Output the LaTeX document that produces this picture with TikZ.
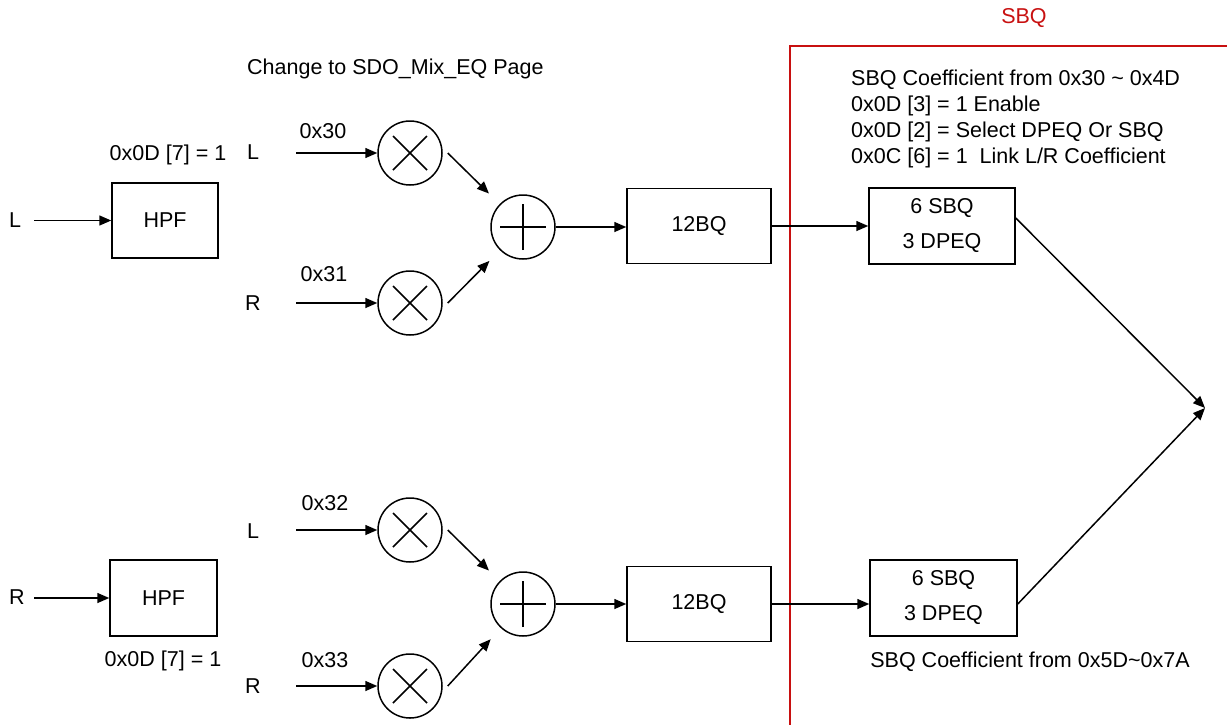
\documentclass[tikz,border=0pt]{standalone}
\usepackage{fontspec}
\setmainfont{Liberation Sans}
\usetikzlibrary{arrows.meta}
\definecolor{sbqred}{RGB}{200,16,16}
\begin{document}
\begin{tikzpicture}[x=1pt,y=-1pt,
  every node/.style={font=\fontsize{21.5}{25}\selectfont, inner sep=0pt},
  ln/.style={line width=1.5pt},
  arr/.style={ln, -{Triangle[length=12pt,width=10pt]}},
  blk/.style={draw, line width=1.5pt, align=center},
  mult/.style={circle, draw, line width=1.5pt, minimum size=64pt,
    path picture={\draw[ln] ([shift={(-17pt,-17pt)}]path picture bounding box.center) -- ([shift={(17pt,17pt)}]path picture bounding box.center)
      ([shift={(-17pt,17pt)}]path picture bounding box.center) -- ([shift={(17pt,-17pt)}]path picture bounding box.center);}},
  adder/.style={circle, draw, line width=1.5pt, minimum size=64pt,
    path picture={\draw[ln] ([xshift=-23pt]path picture bounding box.center) -- ([xshift=23pt]path picture bounding box.center)
      ([yshift=-23pt]path picture bounding box.center) -- ([yshift=23pt]path picture bounding box.center);}},
]
\useasboundingbox (0,0) rectangle (1227,724);

% ---------- red SBQ region ----------
\draw[sbqred, line width=1.4pt] (1230,46) -- (790,46) -- (790,730);
\node[text=sbqred] (sbqtitle) at (1024,18) {SBQ};

% ---------- top path ----------
\node (lin1) at (15,220) {L};
\node[blk, minimum width=106pt, minimum height=75pt] (hpf1) at (165,220.5) {HPF};
\node (hpfreg1) at (168,155) {0x0D [7] = 1};
\coordinate (li1) at (34,220.5);
\draw[arr] (li1) -- (hpf1.west);

\node[anchor=north west] (page) at (247,59) {Change to SDO\_Mix\_EQ Page};

\node[mult] (m1) at (410,153) {};
\node[mult] (m2) at (410,303) {};
\node (l1) at (253,152) {L};
\node (r1) at (253,303) {R};
\node (c30) at (323,131) {0x30};
\node (c31) at (324,274) {0x31};
\coordinate (s1) at (296,153);
\coordinate (s2) at (296,303);
\draw[arr] (s1) -- (m1);
\draw[arr] (s2) -- (m2);

\node[adder] (a1) at (523,227) {};
\draw[arr, shorten >=15pt] ([xshift=5pt]m1.east) -- (a1);
\draw[arr, shorten >=15pt] ([xshift=5pt]m2.east) -- (a1);

\node[blk, minimum width=144pt, minimum height=75pt] (bq1) at (699,226) {12BQ};
\draw[arr] (a1.east) -- (a1.east -| bq1.west);

\node[blk, minimum width=146pt, minimum height=76pt, font=\fontsize{21.5}{35}\selectfont] (sbq1) at (942,226) {6 SBQ\\3 DPEQ};
\draw[arr] (bq1.east) -- (sbq1.west);

\node[anchor=north west, align=left, font=\fontsize{21.5}{26}\selectfont] (notes) at (851,69.5)
  {SBQ Coefficient from 0x30 \textasciitilde{} 0x4D\\
   0x0D [3] = 1 Enable\\
   0x0D [2] = Select DPEQ Or SBQ\\
   0x0C [6] = 1\ \ Link L/R Coefficient};

% ---------- bottom path ----------
\node (rin2) at (17,597) {R};
\node[blk, minimum width=107pt, minimum height=76pt] (hpf2) at (163.5,598) {HPF};
\node (hpfreg2) at (163,661) {0x0D [7] = 1};
\coordinate (ri2) at (34,598);
\draw[arr] (ri2) -- (hpf2.west);

\node[mult] (m3) at (410,530) {};
\node[mult] (m4) at (410,686) {};
\node (l2) at (253,531) {L};
\node (r2) at (253,686) {R};
\node (c32) at (325,503) {0x32};
\node (c33) at (325,660) {0x33};
\coordinate (s3) at (296,530);
\coordinate (s4) at (296,686);
\draw[arr] (s3) -- (m3);
\draw[arr] (s4) -- (m4);

\node[adder] (a2) at (523,604) {};
\draw[arr, shorten >=15pt] ([xshift=5pt]m3.east) -- (a2);
\draw[arr, shorten >=15pt] ([xshift=5pt]m4.east) -- (a2);

\node[blk, minimum width=144pt, minimum height=75pt] (bq2) at (699,604) {12BQ};
\draw[arr] (a2.east) -- (a2.east -| bq2.west);

\node[blk, minimum width=147pt, minimum height=76pt, font=\fontsize{21.5}{35}\selectfont] (sbq2) at (943.5,598) {6 SBQ\\3 DPEQ};
\draw[arr] (bq2.east) -- (bq2.east -| sbq2.west);
\node (notes2) at (1030,662) {SBQ Coefficient from 0x5D\textasciitilde 0x7A};

% ---------- output ----------
\coordinate (out) at (1205,408);
\draw[arr] ([yshift=8pt]sbq1.east) -- (out);
\draw[arr] ([yshift=-6pt]sbq2.east) -- (out);
\end{tikzpicture}
\end{document}
